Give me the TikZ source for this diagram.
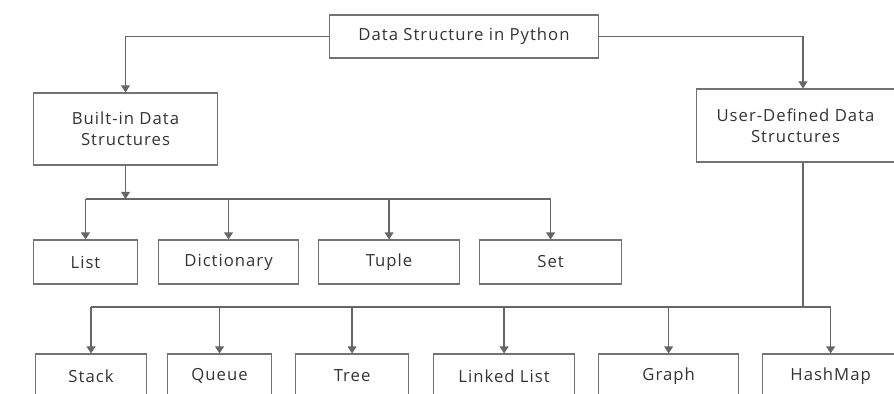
\documentclass[tikz,border=0pt]{standalone}
\usepackage{fontspec}
\setmainfont[LetterSpace=6]{Open Sans}
\usetikzlibrary{arrows.meta,positioning}

\begin{document}
\begin{tikzpicture}[x=0.02cm,y=-0.02cm,
    dsbox/.style={anchor=west,draw=black!55,line width=0.6pt,minimum height=0.88cm,inner sep=2pt,align=center,text=black!80,font=\fontsize{9.5}{11}\selectfont},
    dsline/.style={draw=black!60,line width=0.7pt},
    dsarrow/.style={dsline,-{Triangle[length=4pt,width=5pt]}}]

    \clip (0,0) rectangle (894,394);

    {
    \begin{scope}
    \node[dsbox,minimum width=5.38cm,minimum height=0.86cm] (root) at (329,36.5) {Data Structure in Python};
    \node[dsbox,minimum width=3.68cm,minimum height=1.44cm,font=\fontsize{9.5}{12}\selectfont] (builtin) at (33,129) {Built-in Data\\Structures};
    \node[dsbox,minimum width=3.96cm,minimum height=1.46cm,font=\fontsize{9.5}{12}\selectfont] (user) at (696,125.5) {User-Defined Data\\Structures};
    \end{scope}

    \begin{scope}
    \node[dsbox,minimum width=2.08cm] (list) at (33,262) {List};
    \node[dsbox,minimum width=2.8cm] (dict) at ([xshift=0.4cm]list.east) {Dictionary};
    \node[dsbox,minimum width=2.82cm] (tuple) at ([xshift=0.38cm]dict.east) {Tuple};
    \node[dsbox,minimum width=2.84cm] (set) at ([xshift=0.38cm]tuple.east) {Set};
    \end{scope}

    \begin{scope}
    \node[dsbox,minimum width=2.22cm] (stack) at (35,376) {Stack};
    \node[dsbox,minimum width=2.08cm] (queue) at ([xshift=0.4cm]stack.east) {Queue};
    \node[dsbox,minimum width=2.26cm] (tree) at ([xshift=0.46cm]queue.east) {Tree};
    \node[dsbox,minimum width=2.82cm] (linked) at ([xshift=0.48cm]tree.east) {Linked List};
    \node[dsbox,minimum width=2.8cm] (graph) at ([xshift=0.46cm]linked.east) {Graph};
    \node[dsbox,minimum width=2.72cm] (hashmap) at ([xshift=0.46cm]graph.east) {HashMap};
    \end{scope}
    }

    \coordinate (bbus) at (124,199);
    \coordinate (ubus) at (803,307);

    \draw[dsarrow] (root.west) -| (builtin.north);
    \draw[dsarrow] (root.east) -| (user.north -| ubus);

    \draw[dsarrow] (builtin.south) -- (builtin.south |- bbus);
    \draw[dsline] (list.north |- bbus) -- (set.north |- bbus);
    \foreach \n in {list,dict,tuple,set}
        \draw[dsarrow] (\n.north |- bbus) -- (\n.north);

    \draw[dsline] (user.south -| ubus) -- (ubus);
    \draw[dsline] (stack.north |- ubus) -- (hashmap.north |- ubus);
    \foreach \n in {stack,queue,tree,linked,graph,hashmap}
        \draw[dsarrow] (\n.north |- ubus) -- (\n.north);

\end{tikzpicture}
\end{document}
